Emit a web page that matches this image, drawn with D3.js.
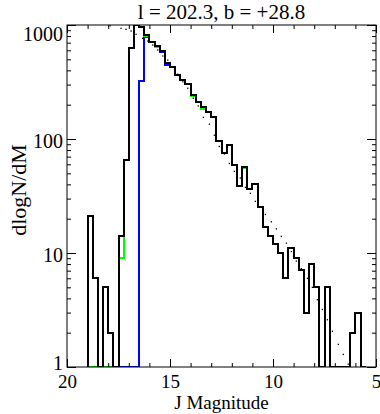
<!DOCTYPE html>
<html>
<head>
<meta charset="utf-8">
<script src="https://cdn.jsdelivr.net/npm/d3@7"></script>
<style>
  body { margin: 0; background: #fff; }
  svg text { font-family: "Liberation Serif", "Times New Roman", serif; fill: #000; }
  .axis path.domain { display: none; }
  .axis line { stroke: #000; stroke-width: 1; }
  .hist { fill: none; shape-rendering: crispEdges; stroke-width: 2; }
</style>
</head>
<body>
<div id="chart"></div>
<script>
// chart text
const titleText = "l = 202.3, b = +28.8";
const xLabelText = "J Magnitude";
const yLabelText = "dlogN/dM";

// histogram bins: 0.25 mag wide, starting at J = 19.0 going brighter
const binStart = 19.0, binWidth = 0.25;

// all stars (black)
const allCounts = [21, 6, 0, 5, 2, 0, 14, 65, 625, 1100, 960, 817, 714, 654, 591, 461,
  431, 364, 329, 302, 243, 210, 190, 171, 155, 96, 76, 88, 59, 38.7, 57, 36.4, 40,
  25.2, 17, 14.1, 11.9, 9.9, 6, 11, 9, 7.1, 3, 8, 5, 0, 5, 0, 0, 0, 0, 2, 3, 0];

// green subset
const greenCounts = [0, 0, 0, 0, 0, 0, 9, 65, 625, 1100, 960, 800, 714, 640, 591, 461,
  431, 364, 329, 302, 237, 210, 185, 171, 155, 96, 76, 88, 59, 38.7, 55.6, 36.4, 40,
  25.2, 17, 14.1, 11.9, 9.9, 6, 11, 9, 7.1, 3, 8, 5, 0, 5, 0, 0, 0, 0, 2, 3, 0];

// blue subset
const blueCounts = [0, 0, 0, 0, 0, 0, 0, 0, 0, 0, 323, 784, 714, 654, 576, 449,
  431, 364, 329, 302, 243, 210, 190, 171, 155, 96, 76, 88, 59, 38.7, 57, 36.4, 40,
  25.2, 17, 14.1, 11.9, 9.9, 6, 11, 9, 7.1, 3, 8, 5, 0, 5, 0, 0, 0, 0, 2, 3, 0];

// model (dotted)
const modelMag = [17.91, 17.38, 17.14, 16.89, 16.65, 16.33, 16.08, 15.84, 15.60, 15.35,
  15.11, 14.87, 14.63, 14.38, 14.14, 13.87, 13.63, 13.38, 13.09, 12.85, 12.61, 12.36,
  12.12, 11.88, 11.59, 11.34, 11.10, 10.86, 10.63, 10.37, 10.08, 9.84, 9.60, 9.35,
  9.11, 8.87, 8.63, 8.33, 8.09, 7.85, 7.61, 7.36, 7.12, 6.83, 6.59, 6.35];
const modelVal = [986, 935, 917, 886, 829, 764, 724, 668, 604, 535, 493, 426, 370, 318,
  279, 228, 195, 155, 135, 108, 86, 74, 61, 52, 45.5, 37.7, 33.4, 28.4, 25.5, 21.8,
  18.8, 16.3, 14.0, 12.2, 10.3, 8.5, 7.3, 6.0, 5.0, 3.9, 3.2, 2.6, 2.06, 1.58, 1.29, 1.06];

const xMajor = [20, 15, 10, 5];
const yMajor = [1, 10, 100, 1000];

const margin = { top: 25, left: 67, right: 4, bottom: 47 },
  fullW = 380, fullH = 414,
  width = fullW - margin.left - margin.right,
  height = fullH - margin.top - margin.bottom;

const svg = d3.select("#chart").append("svg")
  .attr("width", fullW)
  .attr("height", fullH);

const g = svg.append("g")
  .attr("transform", "translate(" + margin.left + "," + margin.top + ")");

const x = d3.scaleLinear().domain([20, 5]).range([0, width]);
const y = d3.scaleLog().domain([1, 1000]).range([height, 0]).clamp(true);

const yv = v => y(Math.max(v, 1));

g.append("clipPath").attr("id", "clip")
  .append("rect").attr("width", width).attr("height", height);

// step outline of a histogram
function stepPoints(counts) {
  let pts = [[binStart, 0]];
  counts.forEach((c, i) => {
    let m0 = binStart - i * binWidth, m1 = m0 - binWidth;
    pts.push([m0, c], [m1, c]);
  });
  pts.push([binStart - counts.length * binWidth, 0]);
  return pts;
}

const line = d3.line().x(d => x(d[0])).y(d => yv(d[1]));

const plot = g.append("g").attr("clip-path", "url(#clip)");

plot.append("path").datum(stepPoints(blueCounts))
  .attr("class", "hist").attr("d", line).attr("stroke", "#0000ff");
plot.append("path").datum(stepPoints(greenCounts))
  .attr("class", "hist").attr("d", line).attr("stroke", "#00ff00");
plot.append("path").datum(stepPoints(allCounts))
  .attr("class", "hist").attr("d", line).attr("stroke", "#000");

// model dots
plot.append("g").selectAll("rect")
  .data(modelMag)
  .enter().append("rect")
    .attr("x", d => x(d) - 0.6)
    .attr("y", (d, i) => yv(modelVal[i]) - 0.6)
    .attr("width", 1.3)
    .attr("height", 1.3)
    .attr("fill", "#000");

// axes, ticks point inwards
const xMinor = d3.range(5, 21, 1);
const yMinor = y.ticks();

g.append("g").attr("class", "axis").attr("transform", "translate(0," + height + ")")
  .call(d3.axisBottom(x).tickValues(xMinor).tickSize(-4).tickFormat(""));
g.append("g").attr("class", "axis xlab").attr("transform", "translate(0," + height + ")")
  .call(d3.axisBottom(x).tickValues(xMajor).tickSize(-8).tickPadding(7).tickFormat(d3.format("d")));
g.append("g").attr("class", "axis")
  .call(d3.axisTop(x).tickValues(xMinor).tickSize(-4).tickFormat(""));
g.append("g").attr("class", "axis")
  .call(d3.axisTop(x).tickValues(xMajor).tickSize(-8).tickFormat(""));

g.append("g").attr("class", "axis")
  .call(d3.axisLeft(y).tickValues(yMinor).tickSize(-4).tickFormat(""));
g.append("g").attr("class", "axis ylab")
  .call(d3.axisLeft(y).tickValues(yMajor).tickSize(-9).tickPadding(5).tickFormat(d3.format("d")));
g.append("g").attr("class", "axis").attr("transform", "translate(" + width + ",0)")
  .call(d3.axisRight(y).tickValues(yMinor).tickSize(-4).tickFormat(""));
g.append("g").attr("class", "axis").attr("transform", "translate(" + width + ",0)")
  .call(d3.axisRight(y).tickValues(yMajor).tickSize(-9).tickFormat(""));

g.selectAll(".xlab text").style("font-size", "19px").attr("dy", "0.75em");
g.selectAll(".ylab text").style("font-size", "20px")
  .attr("x", -4)
  .attr("dy", d => d === 1000 ? "0.75em" : d === 1 ? "0.1em" : "0.4em");

// frame
g.append("rect")
  .attr("width", width).attr("height", height)
  .attr("fill", "none").attr("stroke", "#000").attr("stroke-width", 1);

// title and labels
svg.append("text")
  .attr("x", margin.left + width / 2).attr("y", 19)
  .attr("text-anchor", "middle").style("font-size", "21px")
  .text(titleText);

svg.append("text")
  .attr("x", margin.left + width / 2).attr("y", 409)
  .attr("text-anchor", "middle").style("font-size", "19px")
  .text(xLabelText);

svg.append("text")
  .attr("transform", "translate(26,190) rotate(-90)")
  .attr("text-anchor", "middle").style("font-size", "22px")
  .text(yLabelText);
</script>
</body>
</html>
